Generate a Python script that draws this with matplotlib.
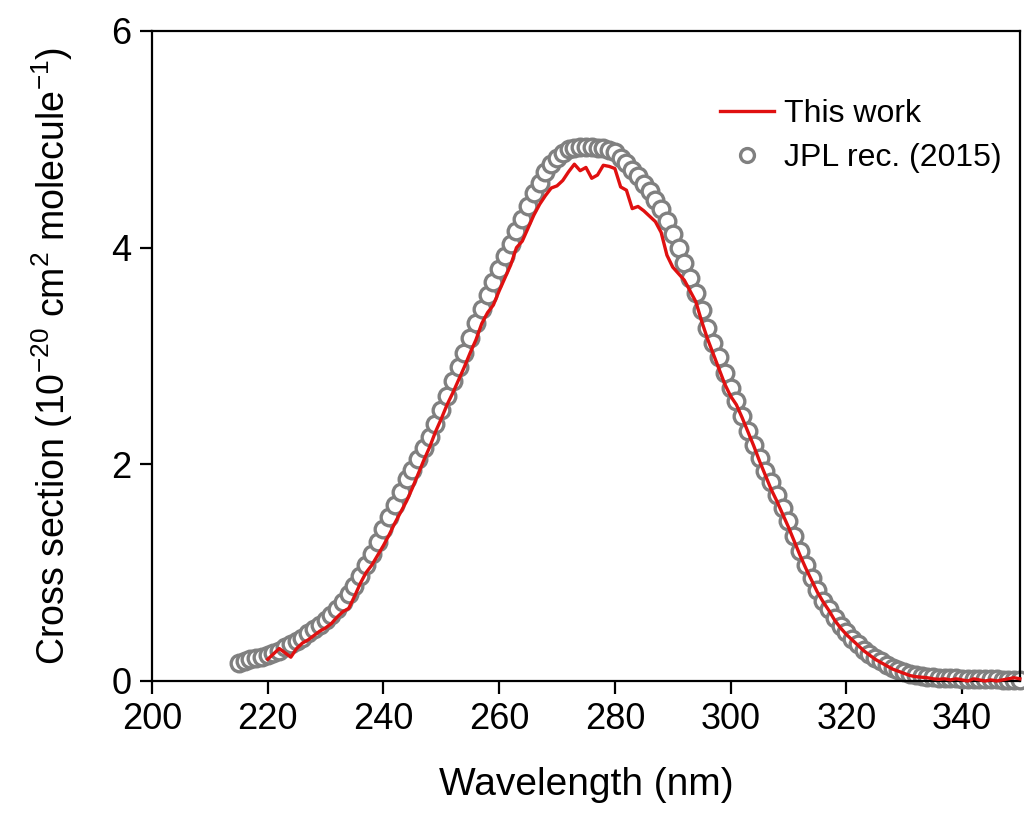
import matplotlib.pyplot as plt
import numpy as np

plt.rcParams['font.family'] = ['Liberation Sans', 'DejaVu Sans']
plt.rcParams['mathtext.default'] = 'regular'

# JPL recommendation, 1 nm grid 215-350
jpl_wl = np.arange(215, 351)
jpl_xs = [
    0.17, 0.18, 0.20, 0.21, 0.22, 0.24, 0.26, 0.28, 0.31, 0.34,
    0.37, 0.40, 0.44, 0.48, 0.52, 0.56, 0.61, 0.66, 0.73, 0.80,
    0.88, 0.97, 1.07, 1.17, 1.28, 1.40, 1.51, 1.62, 1.74, 1.86,
    1.95, 2.05, 2.15, 2.25, 2.37, 2.50, 2.63, 2.77, 2.90, 3.03,
    3.17, 3.30, 3.43, 3.56, 3.68, 3.80, 3.92, 4.03, 4.15, 4.26,
    4.38, 4.50, 4.60, 4.70, 4.77, 4.83, 4.87, 4.91, 4.92, 4.93,
    4.93, 4.93, 4.92, 4.92, 4.90, 4.88, 4.83, 4.78, 4.72, 4.66,
    4.59, 4.52, 4.44, 4.36, 4.25, 4.13, 4.00, 3.86, 3.72, 3.58,
    3.42, 3.26, 3.12, 2.99, 2.84, 2.70, 2.58, 2.45, 2.31, 2.18,
    2.06, 1.94, 1.84, 1.72, 1.60, 1.48, 1.34, 1.20, 1.07, 0.95,
    0.84, 0.74, 0.66, 0.58, 0.51, 0.45, 0.39, 0.34, 0.29, 0.25,
    0.21, 0.18, 0.15, 0.12, 0.10, 0.08, 0.065, 0.055, 0.047, 0.040,
    0.035, 0.030, 0.028, 0.026, 0.024, 0.022, 0.020, 0.018, 0.017, 0.016,
    0.015, 0.014, 0.013, 0.012, 0.011, 0.010,
]

# this work, 1 nm grid 220-350
work_wl = np.arange(220, 351)
work_xs = [
    0.20, 0.25, 0.30, 0.26, 0.22, 0.30, 0.35, 0.38, 0.42, 0.46,
    0.49, 0.53, 0.59, 0.64, 0.67, 0.78, 0.90, 1.00, 1.07, 1.16,
    1.25, 1.35, 1.46, 1.56, 1.66, 1.78, 1.91, 2.04, 2.16, 2.30,
    2.42, 2.55, 2.66, 2.78, 2.90, 3.03, 3.15, 3.30, 3.40, 3.47,
    3.60, 3.72, 3.84, 4.00, 4.06, 4.18, 4.30, 4.40, 4.48, 4.55,
    4.57, 4.62, 4.70, 4.77, 4.71, 4.74, 4.64, 4.67, 4.76, 4.75,
    4.73, 4.56, 4.53, 4.36, 4.38, 4.34, 4.29, 4.24, 4.14, 3.93,
    3.82, 3.76, 3.70, 3.60, 3.50, 3.32, 3.16, 3.02, 2.88, 2.74,
    2.63, 2.55, 2.43, 2.30, 2.17, 2.03, 1.90, 1.77, 1.66, 1.54,
    1.42, 1.29, 1.16, 1.04, 0.93, 0.82, 0.73, 0.65, 0.56, 0.49,
    0.43, 0.38, 0.33, 0.28, 0.24, 0.20, 0.17, 0.14, 0.11, 0.09,
    0.07, 0.05, 0.04, 0.035, 0.03, 0.02, 0.015, 0.02, 0.01, 0.02,
    0.01, 0.00, 0.02, 0.01, 0.00, 0.01, 0.00, 0.01, 0.02, 0.03,
    0.02,
]

fig = plt.figure(figsize=(10.24, 8.14), dpi=100)
ax = fig.add_axes([0.1484, 0.1634, 0.8476, 0.7986])

ax.plot(jpl_wl, jpl_xs, 'o', ms=12, mfc='white', mec='#808080', mew=2.4,
        label='JPL rec. (2015)', zorder=2, clip_on=False)
ax.plot(work_wl, work_xs, '-', color='#e01010', lw=2.4, label='This work', zorder=3,
        clip_on=False)

ax.set_xlim(200, 350)
ax.set_ylim(0, 6)
ax.set_xticks(np.arange(200, 341, 20))
ax.set_yticks([0, 2, 4, 6])
ax.tick_params(direction='out', length=9, width=1.6, labelsize=26, pad=6)
for s in ax.spines.values():
    s.set_linewidth(1.6)

ax.set_xlabel('Wavelength (nm)', fontsize=28, labelpad=22)
ax.set_ylabel('Cross section (10$^{-20}$ cm$^{2}$ molecule$^{-1}$)', fontsize=27, labelpad=26)

h, l = ax.get_legend_handles_labels()
leg = ax.legend(h[::-1], l[::-1], loc='upper right', bbox_to_anchor=(1.012, 0.94),
                frameon=False, fontsize=23, handlelength=1.7, handletextpad=0.3,
                labelspacing=0.45)
leg.legend_handles[1].set_markersize(10)

fig.savefig('out.png', dpi=100)
